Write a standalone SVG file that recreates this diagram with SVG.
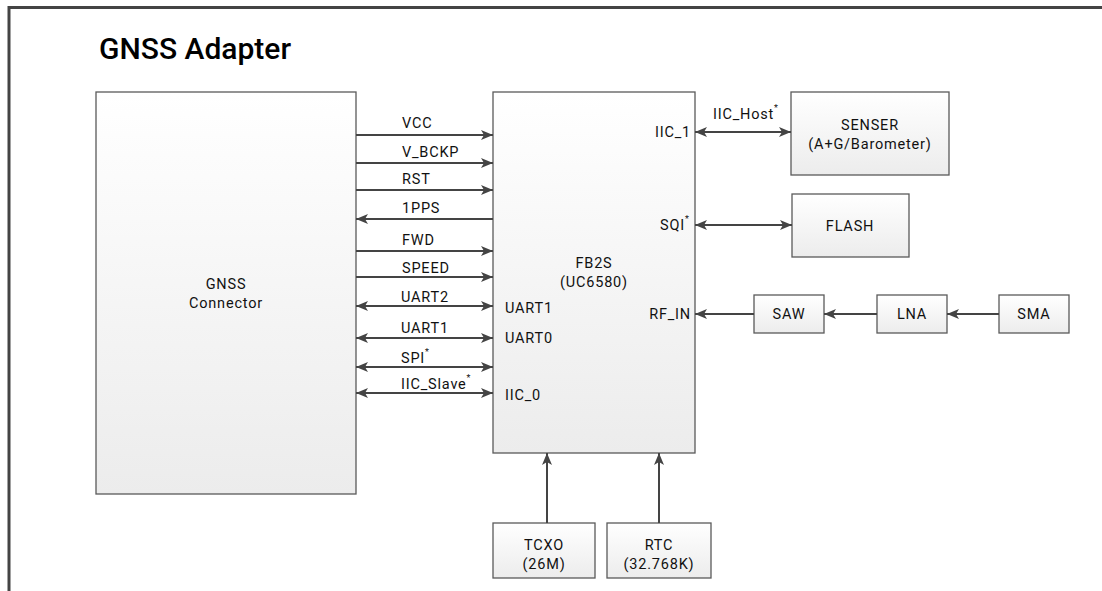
<svg xmlns="http://www.w3.org/2000/svg" width="1102" height="591" viewBox="0 0 1102 591">
<defs>
<linearGradient id="g" x1="0" y1="0" x2="0" y2="1">
<stop offset="0" stop-color="#ffffff"/>
<stop offset="1" stop-color="#ececec"/>
</linearGradient>
<marker id="ah" viewBox="0 0 12 10" refX="12" refY="5" markerWidth="12" markerHeight="10" markerUnits="userSpaceOnUse" orient="auto-start-reverse">
<path d="M0,0 L12,5 L0,10 L3,5 Z" fill="#444"/>
</marker>
<style>
.box{fill:url(#g);stroke:#5a5a5a;stroke-width:1.3}
.t{font-family:Roboto,"Liberation Sans",sans-serif;font-size:14.5px;letter-spacing:0.8px;fill:#111}
.m{text-anchor:middle}
.e{text-anchor:end}
.c{stroke:#444;stroke-width:2;fill:none}
.s{font-size:9px;letter-spacing:0}
</style>
</defs>
<rect width="1102" height="591" fill="#fff"/>
<path d="M9,591 V7.5 H1102" fill="none" stroke="#444" stroke-width="3"/>
<text x="99" y="59" font-family="Roboto,'Liberation Sans',sans-serif" font-size="30" font-weight="500" fill="#000">GNSS Adapter</text>

<g id="conn">
<rect class="box" x="96" y="92" width="260" height="402"/>
<text class="t m" x="226" y="289">GNSS</text>
<text class="t m" x="226" y="308">Connector</text>
</g>
<g id="fb2s">
<rect class="box" x="493" y="92" width="202" height="361"/>
<text class="t m" x="594" y="268">FB2S</text>
<text class="t m" x="594" y="287">(UC6580)</text>
<text class="t" x="505" y="313">UART1</text>
<text class="t" x="505" y="343">UART0</text>
<text class="t" x="505" y="400">IIC_0</text>
<text class="t e" x="691" y="137">IIC_1</text>
<text class="t e" x="685" y="230">SQI</text>
<text class="t s" x="685" y="222">*</text>
<text class="t e" x="691" y="319">RF_IN</text>
</g>
<g id="senser">
<rect class="box" x="791" y="92" width="158" height="83"/>
<text class="t m" x="870" y="130">SENSER</text>
<text class="t m" x="870" y="149">(A+G/Barometer)</text>
</g>
<g id="flash">
<rect class="box" x="792" y="194" width="117" height="63"/>
<text class="t m" x="850" y="231">FLASH</text>
</g>
<g id="saw">
<rect class="box" x="754" y="295" width="70" height="38"/>
<text class="t m" x="789" y="319">SAW</text>
</g>
<g id="lna">
<rect class="box" x="877" y="295" width="70" height="38"/>
<text class="t m" x="912" y="319">LNA</text>
</g>
<g id="sma">
<rect class="box" x="999" y="295" width="70" height="38"/>
<text class="t m" x="1034" y="319">SMA</text>
</g>
<g id="tcxo">
<rect class="box" x="493" y="523" width="102" height="55"/>
<text class="t m" x="544" y="550">TCXO</text>
<text class="t m" x="544" y="569">(26M)</text>
</g>
<g id="rtc">
<rect class="box" x="607" y="523" width="104" height="55"/>
<text class="t m" x="659" y="550">RTC</text>
<text class="t m" x="659" y="569">(32.768K)</text>
</g>

<g id="connectors">
<line class="c" x1="356" y1="135" x2="493" y2="135" marker-end="url(#ah)"/>
<line class="c" x1="356" y1="163" x2="493" y2="163" marker-end="url(#ah)"/>
<line class="c" x1="356" y1="190" x2="493" y2="190" marker-end="url(#ah)"/>
<line class="c" x1="493" y1="219" x2="356" y2="219" marker-end="url(#ah)"/>
<line class="c" x1="356" y1="251" x2="493" y2="251" marker-end="url(#ah)"/>
<line class="c" x1="356" y1="277" x2="493" y2="277" marker-end="url(#ah)"/>
<line class="c" x1="356" y1="306" x2="493" y2="306" marker-start="url(#ah)" marker-end="url(#ah)"/>
<line class="c" x1="356" y1="338" x2="493" y2="338" marker-start="url(#ah)" marker-end="url(#ah)"/>
<line class="c" x1="356" y1="367" x2="493" y2="367" marker-start="url(#ah)" marker-end="url(#ah)"/>
<line class="c" x1="356" y1="393" x2="493" y2="393" marker-start="url(#ah)" marker-end="url(#ah)"/>
<line class="c" x1="695" y1="132" x2="791" y2="132" marker-start="url(#ah)" marker-end="url(#ah)"/>
<line class="c" x1="695" y1="225" x2="792" y2="225" marker-start="url(#ah)" marker-end="url(#ah)"/>
<line class="c" x1="754" y1="314" x2="695" y2="314" marker-end="url(#ah)"/>
<line class="c" x1="877" y1="314" x2="824" y2="314" marker-end="url(#ah)"/>
<line class="c" x1="999" y1="314" x2="947" y2="314" marker-end="url(#ah)"/>
<line class="c" x1="547" y1="523" x2="547" y2="453" marker-end="url(#ah)"/>
<line class="c" x1="659" y1="523" x2="659" y2="453" marker-end="url(#ah)"/>
<text class="t" x="402" y="128">VCC</text>
<text class="t" x="402" y="157">V_BCKP</text>
<text class="t" x="402" y="184">RST</text>
<text class="t" x="402" y="213">1PPS</text>
<text class="t" x="402" y="245">FWD</text>
<text class="t" x="402" y="273">SPEED</text>
<text class="t" x="401" y="302">UART2</text>
<text class="t" x="401" y="333">UART1</text>
<text class="t" x="401" y="363">SPI<tspan class="s" dy="-8">*</tspan></text>
<text class="t" x="401" y="389">IIC_Slave<tspan class="s" dy="-8">*</tspan></text>
<text class="t" x="713" y="119">IIC_Host<tspan class="s" dy="-8">*</tspan></text>
</g>
</svg>
